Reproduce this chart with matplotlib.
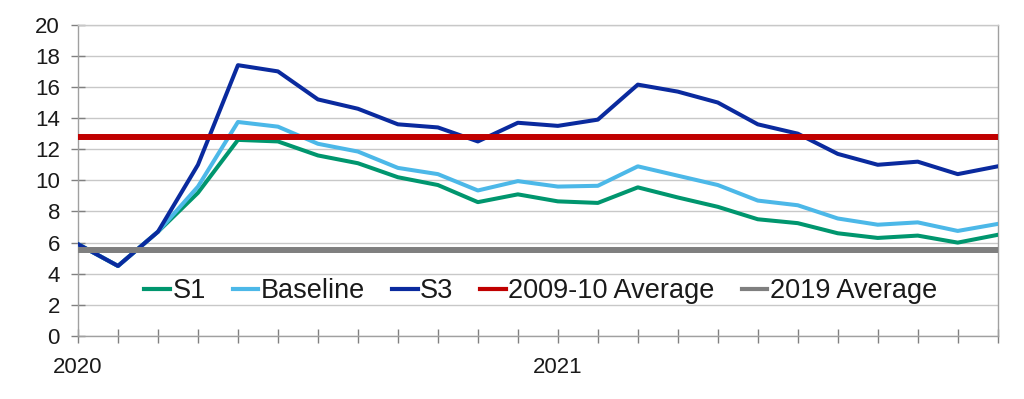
import matplotlib
matplotlib.use("Agg")
import matplotlib.pyplot as plt
import numpy as np

plt.rcParams['font.family'] = ['Liberation Sans', 'DejaVu Sans']

months = list(range(24))
x_labels = {0: "2020", 12: "2021"}
s1 = [5.9, 4.5, 6.7, 9.2, 12.6, 12.5, 11.6, 11.1, 10.2, 9.7, 8.6, 9.1,
      8.65, 8.55, 9.55, 8.9, 8.3, 7.5, 7.25, 6.6, 6.3, 6.45, 6.0, 6.5]
baseline = [5.9, 4.5, 6.7, 9.6, 13.75, 13.45, 12.35, 11.85, 10.8, 10.4, 9.35, 9.95,
            9.6, 9.65, 10.9, 10.3, 9.7, 8.7, 8.4, 7.55, 7.15, 7.3, 6.75, 7.2]
s3 = [5.9, 4.5, 6.7, 11.0, 17.4, 17.0, 15.2, 14.6, 13.6, 13.4, 12.5, 13.7,
      13.5, 13.9, 16.15, 15.7, 15.0, 13.6, 13.0, 11.7, 11.0, 11.2, 10.4, 10.9]
avg_2009_10 = 12.8
avg_2019 = 5.5
y_ticks = list(range(0, 21, 2))

fig = plt.figure(figsize=(10.24, 3.99), dpi=100)
ax = fig.add_axes([78/1024, 1-336/399, (997.7-78)/1024, (336-24.7)/399])

ax.plot(months, s1, color='#00966e', lw=2.9, label='S1', zorder=3)
ax.plot(months, baseline, color='#4cb8e8', lw=2.9, label='Baseline', zorder=3)
ax.plot(months, s3, color='#0a2a9e', lw=2.9, label='S3', zorder=3)
ax.axhline(avg_2009_10, color='#c00000', lw=4.3, label='2009-10 Average', zorder=4)
ax.axhline(avg_2019, color='#7f7f7f', lw=4.3, label='2019 Average', zorder=4)

ax.set_xlim(0, 23)
ax.set_ylim(0, 20)
ax.set_yticks(y_ticks)
ax.set_xticks(months)
ax.set_xticklabels([x_labels.get(m, "") for m in months])
ax.grid(axis='y', color='#c8c8c8', lw=1.0, zorder=0)
ax.set_axisbelow(True)
for s in ax.spines.values():
    s.set_color('#a0a0a0')
    s.set_linewidth(1.0)
ax.spines['top'].set_color('#c8c8c8')
ax.tick_params(axis='both', direction='inout', length=10, width=1.0, color='#808080',
               labelsize=16, labelcolor='#1a1a1a')
ax.tick_params(axis='y', pad=8)
ax.tick_params(axis='x', pad=10)

leg = ax.legend(loc='center', bbox_to_anchor=(0.503, 0.143), ncol=5, frameon=False,
                fontsize=19.5, handlelength=0.95, handletextpad=0.08, columnspacing=1.0,
                borderaxespad=0)
for h in leg.get_lines():
    h.set_linewidth(3)
for t in leg.get_texts():
    t.set_color('#1a1a1a')

fig.savefig('out.png', dpi=100)
